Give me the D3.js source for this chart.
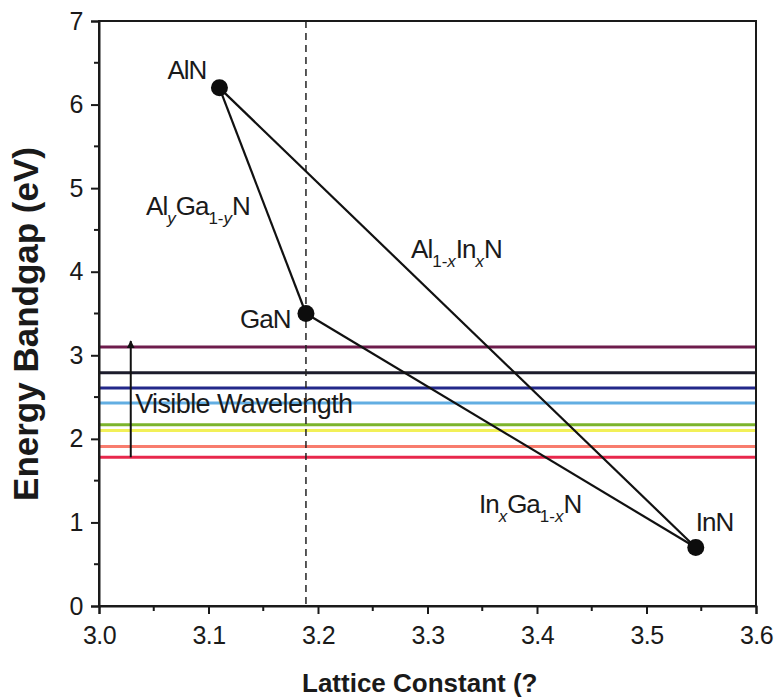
<!DOCTYPE html>
<html>
<head>
<meta charset="utf-8">
<script src="https://cdn.jsdelivr.net/npm/d3@7/dist/d3.min.js"></script>
<style>
  body { margin: 0; background: #fff; }
  text { font-family: "Liberation Sans", Arial, sans-serif; fill: #1a1a1a; }
</style>
</head>
<body>
<script>

  // binary nitrides: lattice constant (A) and bandgap (eV)
  const compounds = ['AlN', 'GaN', 'InN']
  const latticeA = [3.110, 3.189, 3.545]
  const bandgap = [6.2, 3.5, 0.7]

  // visible spectrum reference lines
  const visibleEnergy = [3.10, 2.79, 2.61, 2.43, 2.17, 2.10, 1.91, 1.78]
  const visibleColor = ['#6e1c4c', '#1c1c2c', '#23288a', '#62aee2', '#7cb42c', '#f2f058', '#f87c6e', '#e8284c']

  const xTicks = [3.0, 3.1, 3.2, 3.3, 3.4, 3.5, 3.6]
  const xMinor = [3.05, 3.15, 3.25, 3.35, 3.45, 3.55]
  const yTicks = [0, 1, 2, 3, 4, 5, 6, 7]
  const yMinor = [0.5, 1.5, 2.5, 3.5, 4.5, 5.5, 6.5]

  const gaNLattice = 3.189

  const W = 780, H = 699
  const box = {left: 99, right: 756, top: 21, bottom: 606}

  const x = d3.scaleLinear().domain([3.0, 3.6]).range([box.left, box.right])
  const y = d3.scaleLinear().domain([0, 7]).range([box.bottom, box.top])

  const svg = d3.select('body').append('svg')
      .attr('width', W)
      .attr('height', H)

  // colored visible-range lines
  svg.append('g').selectAll('line')
      .data(visibleEnergy)
      .enter().append('line')
        .attr('x1', box.left).attr('x2', box.right)
        .attr('y1', d => y(d)).attr('y2', d => y(d))
        .style('stroke', (d, i) => visibleColor[i])
        .style('stroke-width', 3)

  // dashed GaN lattice line
  svg.append('line')
      .attr('x1', x(gaNLattice)).attr('x2', x(gaNLattice))
      .attr('y1', box.top).attr('y2', box.bottom)
      .style('stroke', '#222')
      .style('stroke-width', 1.5)
      .style('stroke-dasharray', '7,5')

  // arrow
  const defs = svg.append('defs')
  defs.append('marker')
      .attr('id', 'arr')
      .attr('viewBox', '0 0 10 10')
      .attr('refX', 9).attr('refY', 5)
      .attr('markerWidth', 4).attr('markerHeight', 7)
      .attr('orient', 'auto')
    .append('path')
      .attr('d', 'M0,0 L10,5 L0,10 Z')
      .style('fill', '#111')
  svg.append('line')
      .attr('x1', x(3.029)).attr('x2', x(3.029))
      .attr('y1', y(1.78)).attr('y2', y(3.17))
      .style('stroke', '#111')
      .style('stroke-width', 2)
      .attr('marker-end', 'url(#arr)')

  svg.append('text')
      .attr('x', x(3.033)).attr('y', y(2.31))
      .style('font-size', '27px')
      .style('letter-spacing', '-0.6px')
      .text('Visible Wavelength')

  // alloy tie lines
  const pts = compounds.map((c, i) => ({name: c, a: latticeA[i], e: bandgap[i]}))
  const pairs = [[0, 1], [1, 2], [0, 2]]
  svg.append('g').selectAll('line')
      .data(pairs)
      .enter().append('line')
        .attr('x1', d => x(pts[d[0]].a)).attr('y1', d => y(pts[d[0]].e))
        .attr('x2', d => x(pts[d[1]].a)).attr('y2', d => y(pts[d[1]].e))
        .style('stroke', '#111')
        .style('stroke-width', 2.2)

  svg.append('g').selectAll('circle')
      .data(pts)
      .enter().append('circle')
        .attr('cx', d => x(d.a))
        .attr('cy', d => y(d.e))
        .attr('r', 8.5)
        .style('fill', '#0d0d0d')

  // compound labels
  const nameOffset = {AlN: [-52, -9], GaN: [-66, 14], InN: [0, -17]}
  svg.append('g').selectAll('text')
      .data(pts)
      .enter().append('text')
        .attr('x', d => x(d.a) + nameOffset[d.name][0])
        .attr('y', d => y(d.e) + nameOffset[d.name][1])
        .style('font-size', '26px')
        .style('letter-spacing', '-1px')
        .text(d => d.name)

  // alloy labels with subscripts
  function alloyLabel(px, py, parts) {
    const t = svg.append('text')
        .attr('x', px).attr('y', py)
        .style('font-size', '26px')
        .style('letter-spacing', '-1px')
    let sub = false
    parts.forEach(p => {
      const s = t.append('tspan').text(p.t)
      if (p.sub && !sub) s.attr('dy', 9)
      if (!p.sub && sub) s.attr('dy', -9)
      if (p.sub) s.style('font-size', '17px').style('letter-spacing', '0px')
      if (p.it) s.style('font-style', 'italic')
      sub = !!p.sub
    })
    return t
  }

  alloyLabel(x(3.043), y(4.68), [
    {t: 'Al'}, {t: 'y', sub: true, it: true}, {t: 'Ga'},
    {t: '1-', sub: true}, {t: 'y', sub: true, it: true}, {t: 'N'}])
  alloyLabel(x(3.285), y(4.17), [
    {t: 'Al'}, {t: '1-', sub: true}, {t: 'x', sub: true, it: true},
    {t: 'In'}, {t: 'x', sub: true, it: true}, {t: 'N'}])
  alloyLabel(x(3.347), y(1.11), [
    {t: 'In'}, {t: 'x', sub: true, it: true}, {t: 'Ga'},
    {t: '1-', sub: true}, {t: 'x', sub: true, it: true}, {t: 'N'}])

  // frame
  svg.append('rect')
      .attr('x', box.left).attr('y', box.top)
      .attr('width', box.right - box.left)
      .attr('height', box.bottom - box.top)
      .style('fill', 'none')
      .style('stroke', '#1a1a1a')
      .style('stroke-width', 2)

  // axes
  const xAxis = svg.append('g')
      .attr('transform', `translate(0, ${box.bottom})`)
      .call(d3.axisBottom(x).tickValues(xTicks).tickSize(8).tickPadding(12).tickFormat(d3.format('.1f')))
  xAxis.append('g').selectAll('line')
      .data(xMinor)
      .enter().append('line')
        .attr('x1', d => x(d)).attr('x2', d => x(d))
        .attr('y1', 0).attr('y2', 5)
  const yAxis = svg.append('g')
      .attr('transform', `translate(${box.left}, 0)`)
      .call(d3.axisLeft(y).tickValues(yTicks).tickSize(8).tickPadding(8).tickFormat(d3.format('d')))
  yAxis.append('g').selectAll('line')
      .data(yMinor)
      .enter().append('line')
        .attr('x1', 0).attr('x2', -5)
        .attr('y1', d => y(d)).attr('y2', d => y(d))

  svg.selectAll('.domain').style('stroke', '#1a1a1a').style('stroke-width', 2)
  xAxis.selectAll('line').style('stroke', '#1a1a1a').style('stroke-width', 2)
  yAxis.selectAll('line').style('stroke', '#1a1a1a').style('stroke-width', 2)
  svg.selectAll('.tick text')
      .style('font-family', '"Liberation Sans", Arial, sans-serif')
      .style('font-size', '25px')
      .style('letter-spacing', '-0.5px')
      .style('fill', '#1a1a1a')

  // axis titles
  svg.append('text')
      .attr('x', 302).attr('y', 692)
      .style('font-size', '26px')
      .style('font-weight', 'bold')
      .text('Lattice Constant (?')
  svg.append('text')
      .attr('transform', 'translate(38, 324) rotate(-90)')
      .attr('text-anchor', 'middle')
      .style('font-size', '35px')
      .style('font-weight', 'bold')
      .text('Energy Bandgap (eV)')

</script>
</body>
</html>
